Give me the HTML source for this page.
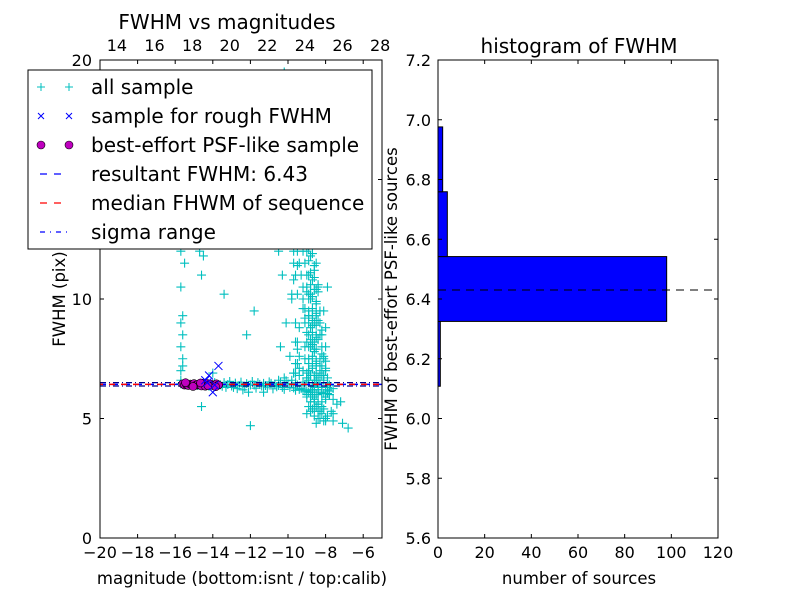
<!DOCTYPE html>
<html><head><meta charset="utf-8"><style>
body{margin:0;background:#fff}
svg{display:block;font-family:"DejaVu Sans","Liberation Sans",sans-serif}
</style></head><body>
<svg id="c" width="800" height="600" viewBox="0 0 800 600">
<rect width="800" height="600" fill="#fff"/>
</svg>
<script>
// ---- data ----
const allMag = [-15.7,-15.7,-15.6,-15.7,-15.6,-15.7,-15.6,-15.7,-15.5,-15.7,-15.6,-15.1,-15.2,-15.0,-14.8,-14.7,-14.5,-14.6,-12.6,-12.5,-13.4,-12.3,-11.5,-11.2,-11.0,-10.8,-10.6,-10.4,-10.2,-10.0,-10.5,-10.3,-11.8,-12.2,
-9.8,-9.7,-9.6,-9.5,-9.4,-9.3,-9.2,-9.1,-9.0,-8.9,-8.8,-8.7,-8.6,-8.5,-8.4,-8.3,-8.2,-8.1,-8.0,-7.9,-7.8,-7.6,-7.4,
-9.0,-8.9,-8.8,-8.7,-8.6,-8.5,-8.8,-8.7,-8.9,-8.6,-8.5,-8.4,-8.7,-8.8,-8.9,-9.0,-8.6,-8.5,-8.7,-8.8,
-9.3,-9.1,-8.9,-8.7,-8.5,-8.3,-8.1,-7.9,-9.5,-9.2,-8.8,-8.6,-8.4,-8.2,-8.0,-9.6,-9.4,-9.0,-8.6,-8.2,
-9.8,-10.1,-10.4,-9.9,-9.5,-9.7,-10.2,-8.9,-8.7,-8.5,-8.3,-8.8,-8.6,-8.4,-9.1,-9.3,-8.9,-8.7,
-14.6,-12.0,-7.2,-6.8,-7.6,-8.0,-8.4,-9.0,-14.0,-11.3,-9.2,-8.4,-10.5,-9.6,-7.9,
-9.3,-9.0,-8.8,-9.6,-9.2,-8.9,-8.7,-9.5,-9.1,-8.9,-8.6,-9.4,-9.0,-8.8,-8.6,-9.3,-9.7,-9.0,-8.8,-8.5,-9.2,
-8.9,-8.7,-8.5,-9.2,-9.5,-8.9,-8.7,-8.5,-8.3,-9.1,-8.9,-8.7,-8.5,-8.3,-9.1,-9.4,-8.9,-8.7,-8.5,-8.3,-9.0,
-8.9,-8.7,-8.5,-8.2,-9.1,-9.5,-8.9,-8.7,-8.5,-8.3,-8.1,-9.1,-8.9,-8.7,-8.5,-8.3,-8.0,-9.2,-9.6,
-9.0,-8.8,-8.6,-8.4,-8.2,-7.9,-9.4,-9.8,-9.0,-8.8,-8.6,-8.4,-8.2,-8.0,-7.8,-8.8,-8.6,-8.4,-8.2,-8.0,
-9.0,-8.8,-8.6,-8.4,-9.1,-8.9,-8.7,-8.5,-9.0,-8.8,-8.6,-8.4,-8.9,-8.7,-8.5,-8.3,-9.1,-8.9,-8.7,-8.5,-8.8,-8.6,-8.4,-8.2,
-8.9,-8.7,-8.5,-8.3,-8.1,-9.0,-8.8,-8.6,-8.4,-8.2,-7.9,-7.7,-8.3,-8.1,-8.5,-7.6,-8.0,-8.6,-7.1,
-15.7,-15.4,-15.1,-14.8,-14.5,-14.2,-13.9,-13.6,-13.3,-13.0,-12.7,-12.4,-12.1,-11.8,-11.5,-11.2,-10.9,-10.6,-10.3,-10.0,-9.7,-9.4,-9.1,-8.8,-8.5,-8.2,-7.9,-7.6,
-13.5,-13.2,-12.9,-12.6,-12.3,-12.0,-11.7,-11.4,-11.1,-10.8,-10.5,-10.2,-9.9,-9.6,-9.3,-9.0,-8.7,-8.4,-8.1,-7.8,
-13.4,-13.1,-12.8,-12.5,-12.2,-11.9,-11.6,-11.3,-11.0,-10.7,-10.4,-10.1,-9.8,-9.5,-9.2,-8.9,-8.6,-8.3,-8.0,
-11.0,-10.6,-10.1,-9.9,-10.3,-10.8,-9.7,-11.4,-10.0,-10.5,-9.8,
-9.7,-9.8,-9.6,-9.5,-9.9,-9.4,-9.7,-9.6,-8.1,-8.0,-8.2,-7.9,-8.1,-8.0,-7.8,-8.2];
const allFwhm = [6.6,7.0,7.5,8.0,8.5,9.0,9.3,10.5,11.5,12.0,7.2,16.0,15.5,15.2,13.5,12.0,11.8,11.0,12.8,14.5,10.2,13.0,17.0,19.0,18.0,17.5,16.5,18.5,19.5,14.0,12.0,11.0,9.5,8.5,
13.0,12.0,11.0,15.0,16.0,17.0,18.0,19.0,16.5,15.5,14.5,13.5,12.5,11.5,10.5,9.5,8.5,7.5,7.0,6.5,6.0,5.8,5.6,
12.0,11.0,10.0,9.5,9.0,8.5,8.0,7.5,7.0,6.8,6.6,6.2,6.0,5.9,6.1,6.7,7.8,9.8,10.8,13.2,
14.2,12.4,10.2,8.2,7.2,6.9,6.6,6.3,11.4,9.6,8.8,7.9,9.1,8.7,7.4,8.2,7.1,6.9,5.7,5.5,
10.0,9.0,8.0,7.6,7.3,6.9,6.7,18.5,17.5,16.0,14.0,11.8,11.2,10.6,13.8,12.6,9.3,8.9,
5.5,4.7,5.7,4.6,5.2,5.0,5.3,5.9,6.9,6.1,6.2,5.6,6.6,6.5,6.05,
12.5,12.4,12.6,12.3,12.0,12.1,11.9,12.0,11.5,11.6,11.4,11.5,11.0,11.1,10.9,11.0,10.8,10.5,10.6,10.4,10.5,
10.0,10.1,9.9,10.0,10.2,9.5,9.6,9.4,9.5,9.6,9.0,9.1,8.9,9.0,9.0,8.8,8.5,8.6,8.4,8.5,8.6,
8.0,8.1,7.9,8.0,8.0,7.9,7.5,7.6,7.4,7.5,7.6,7.5,7.0,7.1,6.9,7.0,7.1,7.0,6.9,
6.7,6.8,6.6,6.7,6.8,6.7,6.8,6.6,6.0,6.1,5.9,6.0,6.1,5.9,6.0,5.7,5.8,5.6,5.7,5.8,
10.3,10.2,10.4,10.3,9.2,9.3,9.2,9.3,8.2,8.3,8.2,8.3,7.3,7.2,7.3,7.2,6.4,6.5,6.4,6.5,6.2,6.3,6.2,6.3,
5.5,5.4,5.5,5.3,5.4,5.2,5.3,5.1,5.0,5.2,5.1,5.3,5.0,4.9,4.8,4.9,4.9,5.4,4.8,
6.45,6.40,6.42,6.38,6.44,6.35,6.50,6.41,6.30,6.36,6.25,6.20,6.10,6.40,6.43,6.38,6.47,6.33,6.30,6.45,6.28,6.22,6.15,6.10,6.00,6.05,6.20,6.25,
6.35,6.42,6.30,6.38,6.33,6.40,6.27,6.36,6.31,6.24,6.38,6.22,6.30,6.18,6.26,6.15,6.20,6.10,6.05,6.15,
6.50,6.55,6.48,6.52,6.46,6.55,6.50,6.47,6.53,6.44,6.50,6.58,6.45,6.40,6.52,6.60,6.35,6.48,6.30,
13.2,14.6,12.9,15.1,16.2,13.8,13.5,14.9,12.6,15.8,16.6,
11.5,10.2,9.0,8.2,12.8,7.6,6.9,7.3,9.5,8.8,7.2,10.5,6.8,8.0,6.4,7.7];
const roughMag = [-14.2,-13.7,-14.4,-14.0,-14.3,-13.9];
const roughFwhm = [6.8,7.2,6.6,6.1,6.5,6.4];
const bestMag = [-15.6,-15.5,-15.4,-15.3,-15.2,-15.1,-15.0,-14.9,-14.8,-14.7,-14.6,-14.5,-14.4,-14.3,-14.2,-14.1,-14.0,-13.9,-13.8,-13.7,-15.45,-15.05,-14.65,-14.25,-13.85];
const bestFwhm = [6.45,6.40,6.42,6.38,6.44,6.41,6.46,6.39,6.43,6.40,6.36,6.48,6.35,6.47,6.42,6.44,6.38,6.41,6.45,6.40,6.50,6.34,6.49,6.37,6.33];
const resultFwhm = 6.43;
const medianFwhm = 6.43;
const sigmaLo = 6.36, sigmaHi = 6.50;
const histEdges = [6.108,6.325,6.542,6.759,6.976];
const histCounts = [1,98,4,2];
const xTicksL = [-20,-18,-16,-14,-12,-10,-8,-6];
const xTicksTop = [14,16,18,20,22,24,26,28];
const yTicksL = [0,5,10,15,20];
const yTicksR = [5.6,5.8,6.0,6.2,6.4,6.6,6.8,7.0,7.2];
const xTicksR = [0,20,40,60,80,100,120];

const NS="http://www.w3.org/2000/svg", svg=document.getElementById('c');
function mk(t,a,p){const e=document.createElementNS(NS,t);for(const k in a)e.setAttribute(k,a[k]);(p||svg).appendChild(e);return e;}
const L={x0:100,x1:382,y0:60,y1:538};
const lx=v=>L.x0+(v+20)/15*(L.x1-L.x0);
const ly=v=>L.y1-v/20*(L.y1-L.y0);
const tx=v=>L.x0+(v-13.1)/15*(L.x1-L.x0);
const R={x0:438,x1:718,y0:60,y1:538};
const rx=v=>R.x0+v/120*(R.x1-R.x0);
const ry=v=>R.y1-(v-5.6)/1.6*(R.y1-R.y0);

const gL=mk('g',{});


const clip=mk('clipPath',{id:'cl'});mk('rect',{x:L.x0,y:L.y0,width:L.x1-L.x0,height:L.y1-L.y0},clip);
const gd=mk('g',{'clip-path':'url(#cl)'},gL);
for(let i=0;i<allMag.length;i++){const x=lx(allMag[i]),y=ly(allFwhm[i]);
 const p=mk('path',{d:`M${x-4.5} ${y}H${x+4.5}M${x} ${y-4.5}V${y+4.5}`,stroke:'#00bfbf','stroke-width':1.1},gd);
 
 }
mk('line',{x1:L.x0,x2:L.x1,y1:ly(resultFwhm),y2:ly(resultFwhm),stroke:'#00f','stroke-width':1.5,'stroke-dasharray':'6,6'},gd);
mk('line',{x1:L.x0,x2:L.x1,y1:ly(medianFwhm),y2:ly(medianFwhm),stroke:'#f00','stroke-width':1.5,'stroke-dasharray':'6,6','stroke-dashoffset':3},gd);
[sigmaLo,sigmaHi].forEach(v=>{const l=mk('line',{x1:L.x0,x2:L.x1,y1:ly(v),y2:ly(v),stroke:'#00008b','stroke-width':1.2,'stroke-dasharray':'6,3,1,3'},gd);});
for(let i=0;i<bestMag.length;i++){const c=mk('ellipse',{cx:lx(bestMag[i]),cy:ly(bestFwhm[i]),rx:4,ry:4,fill:'#bf00bf',stroke:'#000','stroke-width':0.6},gd);
 
 }
for(let i=0;i<roughMag.length;i++){const x=lx(roughMag[i]),y=ly(roughFwhm[i]);
 const p=mk('path',{d:`M${x-4} ${y-4}L${x+4} ${y+4}M${x-4} ${y+4}L${x+4} ${y-4}`,stroke:'#00f','stroke-width':1},gd);
 
 }
mk('rect',{x:L.x0,y:L.y0,width:L.x1-L.x0,height:L.y1-L.y0,fill:'none',stroke:'#000'},gL);
xTicksL.forEach(v=>{const x=lx(v);mk('path',{d:`M${x} ${L.y1}v-4M${x} ${L.y0}v4`,stroke:'#000'},gL);
 const t=mk('text',{x:x,y:L.y1+20,'text-anchor':'middle','font-size':16},gL);t.textContent='\u2212'+(-v);});
xTicksTop.forEach(v=>{const x=tx(v);const t=mk('text',{x:x,y:L.y0-9,'text-anchor':'middle','font-size':16},gL);t.textContent=v;});
yTicksL.forEach(v=>{const y=ly(v);mk('path',{d:`M${L.x0} ${y}h4M${L.x1} ${y}h-4`,stroke:'#000'},gL);
 const t=mk('text',{x:L.x0-8,y:y+6,'text-anchor':'end','font-size':16},gL);t.textContent=v;});
let t=mk('text',{x:242,y:584,'text-anchor':'middle','font-size':16.5},gL);t.textContent='magnitude (bottom:isnt / top:calib)';
t=mk('text',{x:0,y:0,'text-anchor':'middle','font-size':16.5,transform:'translate(65,299) rotate(-90)'},gL);t.textContent='FWHM (pix)';
t=mk('text',{x:227,y:29,'text-anchor':'middle','font-size':20},gL);t.textContent='FWHM vs magnitudes';

const lg=mk('g',{});


mk('rect',{x:28,y:70,width:344,height:179,fill:'#fff',stroke:'#000'},lg);
const labels=['all sample','sample for rough FWHM','best-effort PSF-like sample','resultant FWHM: 6.43','median FHWM of sequence','sigma range'];
labels.forEach((s,i)=>{const y=87+i*29;
 if(i==0)[41,69].forEach(x=>mk('path',{d:`M${x-4} ${y}h8M${x} ${y-4}v8`,stroke:'#00bfbf'},lg));
 if(i==1)[41,69].forEach(x=>mk('path',{d:`M${x-3} ${y-3}l6 6M${x-3} ${y+3}l6 -6`,stroke:'#00f'},lg));
 if(i==2)[41,69].forEach(x=>mk('circle',{cx:x,cy:y,r:4,fill:'#bf00bf',stroke:'#000','stroke-width':0.6},lg));
 if(i==3)mk('line',{x1:40,x2:68,y1:y,y2:y,stroke:'#00f','stroke-width':1.3,'stroke-dasharray':'7,7'},lg);
 if(i==4)mk('line',{x1:40,x2:68,y1:y,y2:y,stroke:'#f00','stroke-width':1.3,'stroke-dasharray':'7,7'},lg);
 if(i==5)mk('line',{x1:40,x2:68,y1:y,y2:y,stroke:'#00f','stroke-width':1.3,'stroke-dasharray':'5,5,1,5'},lg);
 const e=mk('text',{x:91,y:y+7,'font-size':20},lg);e.textContent=s;
 
 });

const gR=mk('g',{});


for(let i=0;i<histCounts.length;i++){const y1=ry(histEdges[i+1]),y2=ry(histEdges[i]);
 const b=mk('rect',{x:R.x0,y:y1,width:rx(histCounts[i])-R.x0,height:y2-y1,fill:'#00f',stroke:'#000','stroke-width':1},gR);
 
 }
mk('line',{x1:R.x0,x2:R.x1,y1:ry(resultFwhm),y2:ry(resultFwhm),stroke:'#000','stroke-dasharray':'8,6'},gR);
mk('rect',{x:R.x0,y:R.y0,width:R.x1-R.x0,height:R.y1-R.y0,fill:'none',stroke:'#000'},gR);
yTicksR.forEach(v=>{const y=ry(v);mk('path',{d:`M${R.x0} ${y}h4M${R.x1} ${y}h-4`,stroke:'#000'},gR);
 const e=mk('text',{x:R.x0-7,y:y+6,'text-anchor':'end','font-size':16},gR);e.textContent=v.toFixed(1);});
xTicksR.forEach(v=>{const x=rx(v);mk('path',{d:`M${x} ${R.y1}v-4M${x} ${R.y0}v4`,stroke:'#000'},gR);
 const e=mk('text',{x:x,y:R.y1+20,'text-anchor':'middle','font-size':16},gR);e.textContent=v;});
t=mk('text',{x:579,y:584,'text-anchor':'middle','font-size':16.5},gR);t.textContent='number of sources';
t=mk('text',{x:0,y:0,'text-anchor':'middle','font-size':16.5,transform:'translate(397,299) rotate(-90)'},gR);t.textContent='FWHM of best-effort PSF-like sources';
t=mk('text',{x:579,y:53,'text-anchor':'middle','font-size':20},gR);t.textContent='histogram of FWHM';
</script>
</body></html>
